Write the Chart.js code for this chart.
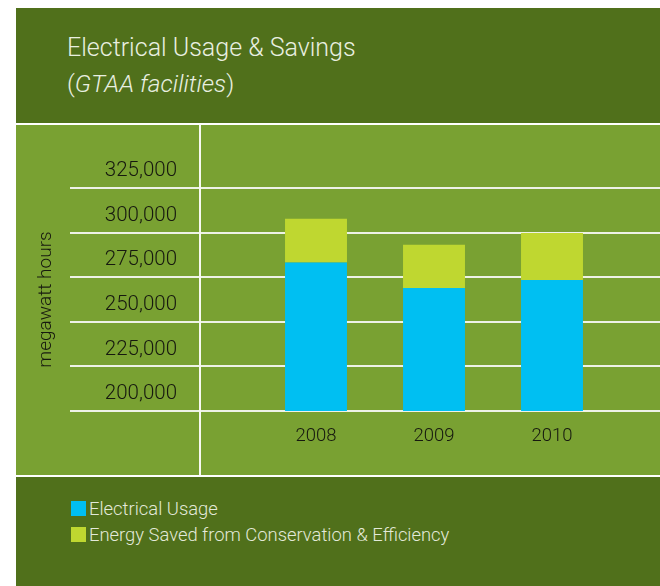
<!DOCTYPE html>
<html>
<head>
<meta charset="utf-8">
<script src="https://cdn.jsdelivr.net/npm/chart.js@4.4.0/dist/chart.umd.min.js"></script>
<style>
  html, body { margin: 0; padding: 0; background: #fff; }
  body { width: 660px; height: 586px; position: relative; overflow: hidden; font-family: 'Roboto', 'Liberation Sans', sans-serif; font-weight: 300; }
  .panel { position: absolute; left: 16px; width: 644px; }
  #head { top: 8px; height: 115px; background: #50701b; }
  #plot { top: 123px; height: 350px; background: #79a132; border-top: 2px solid #fff; border-bottom: 2px solid #fff; }
  #foot { top: 477px; height: 109px; background: #50701b; }
  #divider { position: absolute; left: 199px; top: 125px; width: 2px; height: 350px; background: #f7f9f2; }
  #title { position: absolute; left: 67px; top: 30px; color: #e9efe0; font-size: 25px; line-height: 36px; }
  #title .sub { font-size: 24.5px; }
  #title .sub em { font-style: italic; }
  #legend { position: absolute; left: 71px; top: 498px; color: #e3e9d9; font-size: 18.4px; }
  #legend div { height: 26px; line-height: 22px; white-space: nowrap; }
  #legend span.sw { display: inline-block; width: 15px; height: 15px; margin-right: 3px; vertical-align: -1px; }
  #wrap { position: absolute; left: 16px; top: 125px; width: 644px; height: 350px; }
</style>
</head>
<body>
<div class="panel" id="head"></div>
<div class="panel" id="plot"></div>
<div class="panel" id="foot"></div>
<div id="title">
  <div>Electrical Usage &amp; Savings</div>
  <div class="sub">(<em>GTAA facilities</em>)</div>
</div>
<div id="wrap"><canvas id="chart"></canvas></div>
<div id="divider"></div>
<div id="legend"></div>
<script>
// values (megawatt hours)
const years = ['2008', '2009', '2010'];
const usage = [283200, 269000, 273500];
const saved = [24600, 24200, 26300];
const seriesNames = ['Electrical Usage', 'Energy Saved from Conservation & Efficiency'];
const seriesColors = ['#00bff2', '#bfd730'];
const yMin = 200000, yMax = 325000, yStep = 25000;

const GRID = '#eef2e6';
const INK = '#16180f';
const FAMILY = "'Roboto', 'Liberation Sans', sans-serif";

const legend = document.getElementById('legend');
seriesNames.forEach((name, i) => {
  const row = document.createElement('div');
  row.innerHTML = `<span class="sw" style="background:${seriesColors[i]}"></span>`;
  row.appendChild(document.createTextNode(name));
  legend.appendChild(row);
});

new Chart(document.getElementById('chart'), {
  type: 'bar',
  data: {
    labels: years,
    datasets: [
      { label: seriesNames[0], data: usage, backgroundColor: seriesColors[0], categoryPercentage: 1, barPercentage: 0.525 },
      { label: seriesNames[1], data: saved, backgroundColor: seriesColors[1], categoryPercentage: 1, barPercentage: 0.525 },
    ],
  },
  options: {
    responsive: true, maintainAspectRatio: false, animation: false,
    layout: { padding: { top: 63, right: 0, bottom: 0, left: 0 } },
    plugins: { legend: { display: false }, tooltip: { enabled: false } },
    scales: {
      x: {
        stacked: true,
        grid: { display: false, drawTicks: false },
        border: { display: false },
        ticks: { color: INK, padding: 14, font: { family: FAMILY, size: 18.5, weight: 300 } },
        afterFit: (s) => { s.height = 64; },
      },
      y: {
        stacked: true, min: yMin, max: yMax,
        grid: { color: GRID, lineWidth: 2, tickLength: 187 },
        border: { display: false },
        ticks: {
          stepSize: yStep, color: INK, padding: -107, labelOffset: -17,
          font: { family: FAMILY, size: 20.5, weight: 300 },
          callback: (v) => v.toLocaleString('en-US'),
        },
        title: { display: true, text: 'megawatt hours', color: INK, padding: { top: 19, bottom: 0 }, font: { family: FAMILY, size: 19, weight: 300 } },
        afterFit: (s) => { s.width = 241; },
      },
      y2: {
        position: 'right', min: yMin, max: yMax,
        grid: { color: GRID, lineWidth: 2, tickLength: 49, drawOnChartArea: false },
        border: { display: false },
        ticks: { stepSize: yStep, display: false },
      },
    },
  },
});
</script>
</body>
</html>
